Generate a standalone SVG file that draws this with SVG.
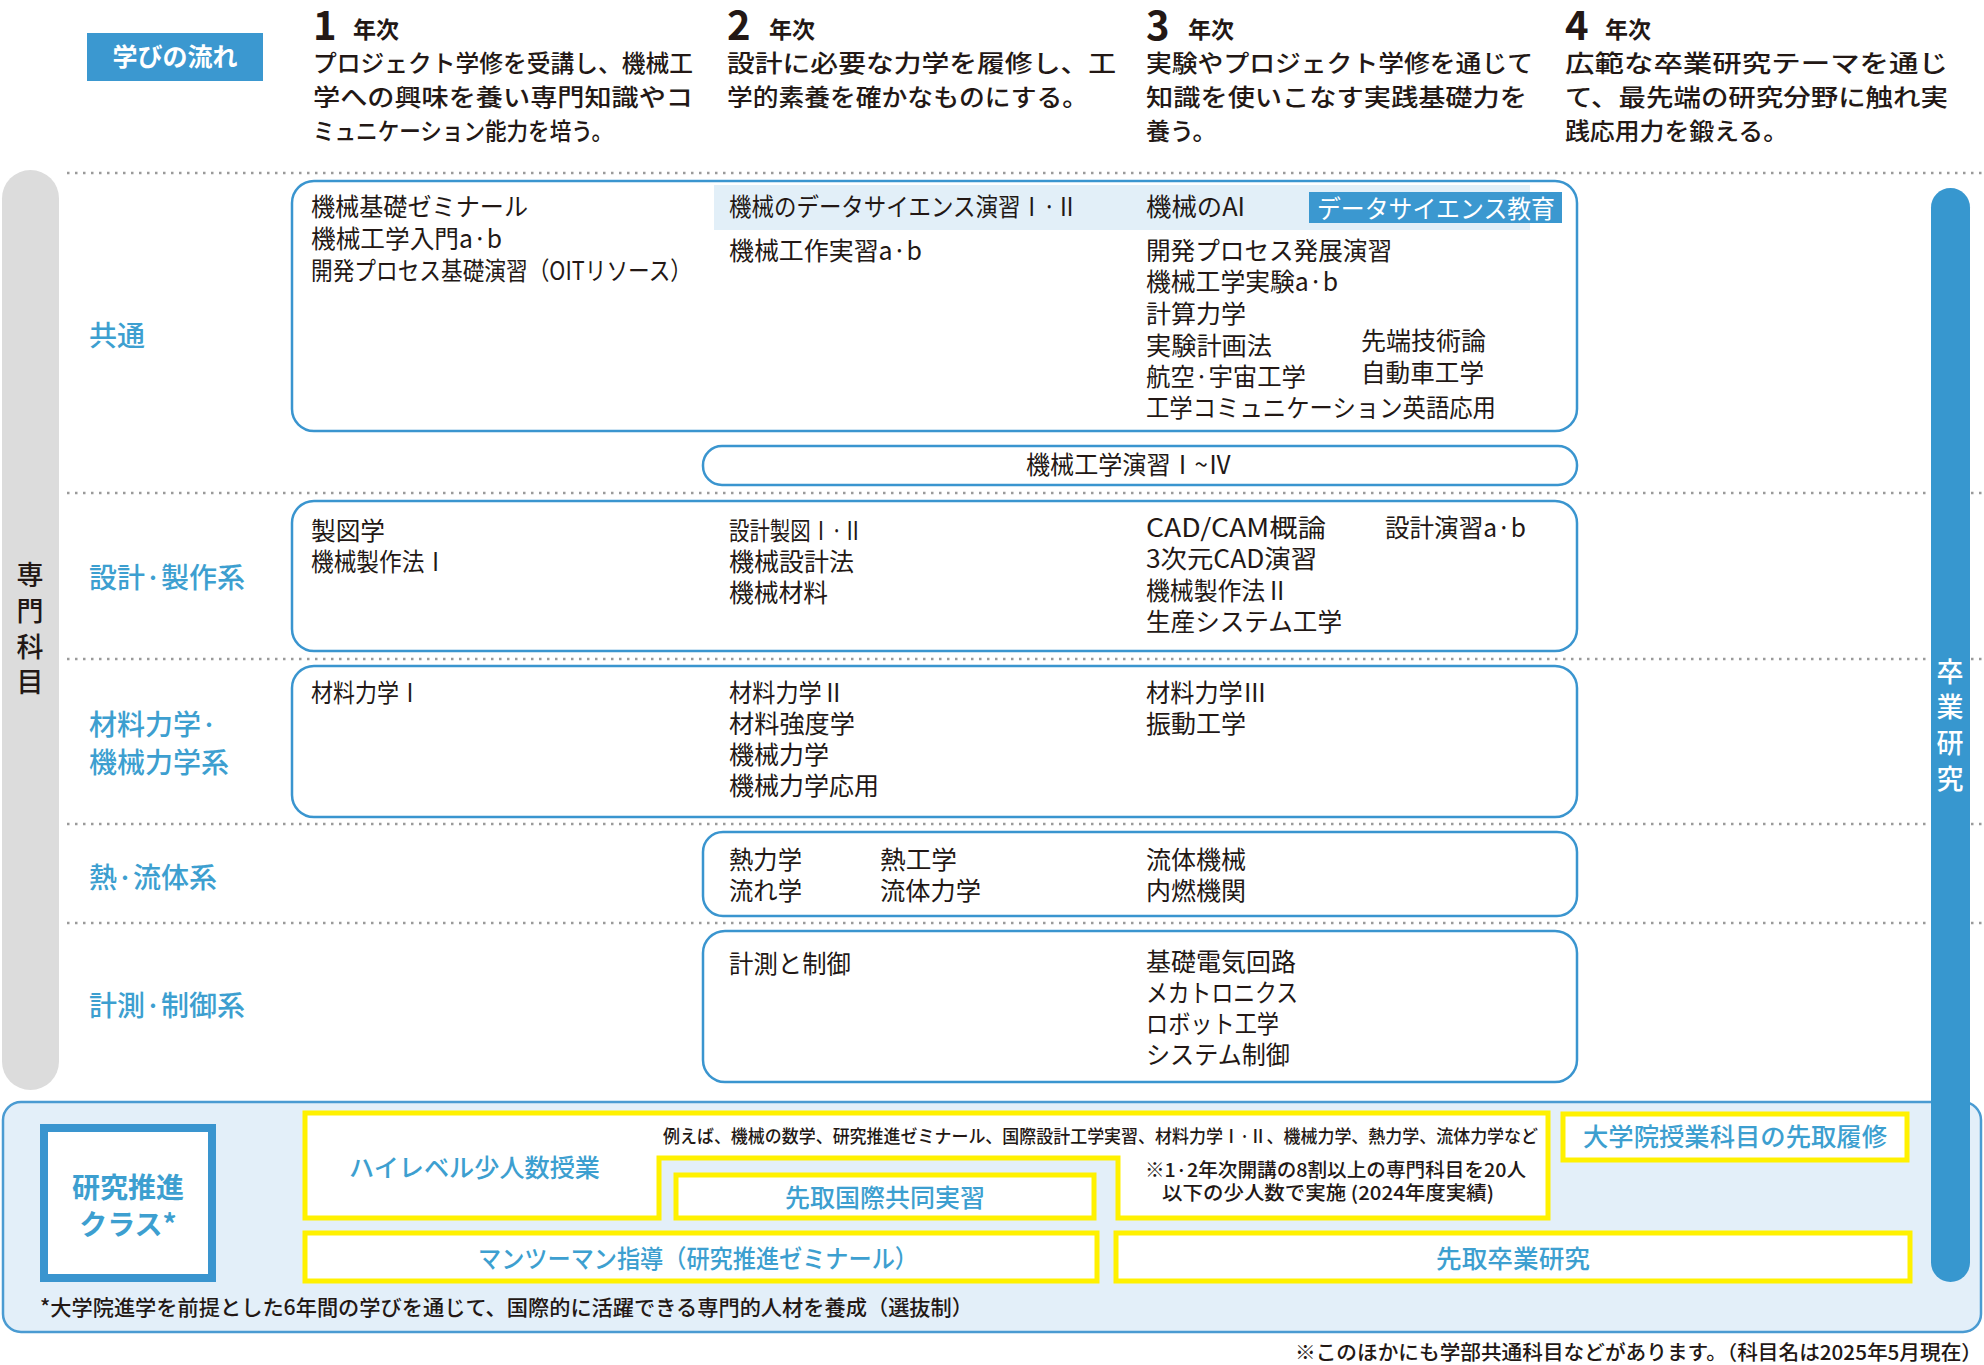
<svg xmlns="http://www.w3.org/2000/svg" width="1984" height="1365" viewBox="0 0 1984 1365">
<style>
text{font-family:"Noto Sans CJK JP","Noto Sans",sans-serif;fill:#231815}
.hd{font-size:24px;font-weight:500}
.yr{font-size:40px;font-weight:700}
.yk{font-size:23px;font-weight:700}
.b{font-size:25px}
.cat{font-size:28px;fill:#3d9fd0;font-weight:500}
.box{fill:#fff;stroke:#3a95cf;stroke-width:2.5}
.dot{stroke:#9a9a9a;stroke-width:2.5;stroke-dasharray:2.5 5.5;fill:none}
.yel{fill:#fff;stroke:#fff100;stroke-width:5}
.bl{fill:#3d9fd0;font-size:25px;font-weight:500}
.vt{font-size:27px;text-anchor:middle;font-weight:500}
</style>
<rect width="1984" height="1365" fill="#fff"/>

<!-- header -->
<g id="header">
  <rect x="87" y="33" width="176" height="48" fill="#3b98d0"/>
  <text x="175" y="66" text-anchor="middle" style="font-size:25px;font-weight:700;fill:#fff">学びの流れ</text>
  <g id="year1">
    <text class="yr" x="313" y="40">1</text><text class="yk" x="353" y="38">年次</text>
    <text class="hd" x="313" y="72" textLength="380" lengthAdjust="spacingAndGlyphs">プロジェクト学修を受講し、機械工</text>
    <text class="hd" x="313" y="106" textLength="380" lengthAdjust="spacingAndGlyphs">学への興味を養い専門知識やコ</text>
    <text class="hd" x="313" y="140" textLength="300" lengthAdjust="spacingAndGlyphs">ミュニケーション能力を培う。</text>
  </g>
  <g id="year2">
    <text class="yr" x="727" y="40">2</text><text class="yk" x="769" y="38">年次</text>
    <text class="hd" x="727" y="72" textLength="389" lengthAdjust="spacingAndGlyphs">設計に必要な力学を履修し、工</text>
    <text class="hd" x="727" y="106" textLength="361" lengthAdjust="spacingAndGlyphs">学的素養を確かなものにする。</text>
  </g>
  <g id="year3">
    <text class="yr" x="1146" y="40">3</text><text class="yk" x="1188" y="38">年次</text>
    <text class="hd" x="1146" y="72" textLength="387" lengthAdjust="spacingAndGlyphs">実験やプロジェクト学修を通じて</text>
    <text class="hd" x="1146" y="106" textLength="381" lengthAdjust="spacingAndGlyphs">知識を使いこなす実践基礎力を</text>
    <text class="hd" x="1146" y="140">養う。</text>
  </g>
  <g id="year4">
    <text class="yr" x="1565" y="40">4</text><text class="yk" x="1605" y="38">年次</text>
    <text class="hd" x="1565" y="72" textLength="383" lengthAdjust="spacingAndGlyphs">広範な卒業研究テーマを通じ</text>
    <text class="hd" x="1565" y="106" textLength="383" lengthAdjust="spacingAndGlyphs">て、最先端の研究分野に触れ実</text>
    <text class="hd" x="1565" y="140" textLength="223" lengthAdjust="spacingAndGlyphs">践応用力を鍛える。</text>
  </g>
</g>

<!-- left label -->
<g id="senmon">
  <rect x="2" y="170" width="57" height="920" rx="28.5" fill="#dcdcdc"/>
  <text class="vt" x="30" y="585">専</text>
  <text class="vt" x="30" y="621">門</text>
  <text class="vt" x="30" y="657">科</text>
  <text class="vt" x="30" y="692">目</text>
</g>

<!-- dividers -->
<g id="dividers">
  <line class="dot" x1="67" y1="173" x2="1984" y2="173"/>
  <line class="dot" x1="67" y1="493" x2="1984" y2="493"/>
  <line class="dot" x1="67" y1="659" x2="1984" y2="659"/>
  <line class="dot" x1="67" y1="824" x2="1984" y2="824"/>
  <line class="dot" x1="67" y1="923" x2="1984" y2="923"/>
</g>

<!-- 共通 -->
<g id="kyotsu">
  <text class="cat" x="89" y="346">共通</text>
  <rect class="box" x="292" y="181" width="1285" height="250" rx="22"/>
  <rect x="714" y="185" width="816" height="45" fill="#e2eff8"/>
  <rect x="1309" y="192" width="253" height="31" fill="#3b98d0"/>
  <text class="b" x="1317" y="218" textLength="238" lengthAdjust="spacingAndGlyphs" style="fill:#fff">データサイエンス教育</text>
  <text class="b" x="311" y="216" textLength="217" lengthAdjust="spacingAndGlyphs">機械基礎ゼミナール</text>
  <text class="b" x="311" y="248" textLength="191" lengthAdjust="spacingAndGlyphs">機械工学入門a·b</text>
  <text class="b" x="311" y="280" textLength="381" lengthAdjust="spacingAndGlyphs">開発プロセス基礎演習（OITリソース）</text>
  <text class="b" x="729" y="216" textLength="349" lengthAdjust="spacingAndGlyphs">機械のデータサイエンス演習Ⅰ·Ⅱ</text>
  <text class="b" x="729" y="260" textLength="193" lengthAdjust="spacingAndGlyphs">機械工作実習a·b</text>
  <text class="b" x="1146" y="216" textLength="99" lengthAdjust="spacingAndGlyphs">機械のAI</text>
  <text class="b" x="1146" y="260" textLength="246" lengthAdjust="spacingAndGlyphs">開発プロセス発展演習</text>
  <text class="b" x="1146" y="291" textLength="192" lengthAdjust="spacingAndGlyphs">機械工学実験a·b</text>
  <text class="b" x="1146" y="323" textLength="100" lengthAdjust="spacingAndGlyphs">計算力学</text>
  <text class="b" x="1146" y="355" textLength="126" lengthAdjust="spacingAndGlyphs">実験計画法</text>
  <text class="b" x="1361" y="350" textLength="125" lengthAdjust="spacingAndGlyphs">先端技術論</text>
  <text class="b" x="1146" y="386" textLength="160" lengthAdjust="spacingAndGlyphs">航空·宇宙工学</text>
  <text class="b" x="1361" y="382" textLength="123" lengthAdjust="spacingAndGlyphs">自動車工学</text>
  <text class="b" x="1146" y="417" textLength="350" lengthAdjust="spacingAndGlyphs">工学コミュニケーション英語応用</text>
</g>
<g id="enshu">
  <rect class="box" x="703" y="446" width="874" height="39" rx="19"/>
  <text class="b" x="1129" y="474" text-anchor="middle" textLength="206" lengthAdjust="spacingAndGlyphs">機械工学演習Ⅰ~Ⅳ</text>
</g>

<!-- 設計・製作系 -->
<g id="sekkei">
  <text class="cat" x="89" y="588">設計·製作系</text>
  <rect class="box" x="292" y="501" width="1285" height="150" rx="22"/>
  <text class="b" x="311" y="540" textLength="74" lengthAdjust="spacingAndGlyphs">製図学</text>
  <text class="b" x="311" y="571" textLength="136" lengthAdjust="spacingAndGlyphs">機械製作法Ⅰ</text>
  <text class="b" x="729" y="540" textLength="134" lengthAdjust="spacingAndGlyphs">設計製図Ⅰ·Ⅱ</text>
  <text class="b" x="729" y="571" textLength="125" lengthAdjust="spacingAndGlyphs">機械設計法</text>
  <text class="b" x="729" y="602" textLength="99" lengthAdjust="spacingAndGlyphs">機械材料</text>
  <text class="b" x="1146" y="537" textLength="180" lengthAdjust="spacingAndGlyphs">CAD/CAM概論</text>
  <text class="b" x="1385" y="537" textLength="141" lengthAdjust="spacingAndGlyphs">設計演習a·b</text>
  <text class="b" x="1146" y="568" textLength="171" lengthAdjust="spacingAndGlyphs">3次元CAD演習</text>
  <text class="b" x="1146" y="600" textLength="143" lengthAdjust="spacingAndGlyphs">機械製作法Ⅱ</text>
  <text class="b" x="1146" y="631" textLength="196" lengthAdjust="spacingAndGlyphs">生産システム工学</text>
</g>

<!-- 材料力学・機械力学系 -->
<g id="zairyo">
  <text class="cat" x="89" y="735">材料力学·</text>
  <text class="cat" x="89" y="773">機械力学系</text>
  <rect class="box" x="292" y="666" width="1285" height="151" rx="22"/>
  <text class="b" x="311" y="702" textLength="110" lengthAdjust="spacingAndGlyphs">材料力学Ⅰ</text>
  <text class="b" x="729" y="702" textLength="116" lengthAdjust="spacingAndGlyphs">材料力学Ⅱ</text>
  <text class="b" x="729" y="733" textLength="126" lengthAdjust="spacingAndGlyphs">材料強度学</text>
  <text class="b" x="729" y="764" textLength="100" lengthAdjust="spacingAndGlyphs">機械力学</text>
  <text class="b" x="729" y="795" textLength="150" lengthAdjust="spacingAndGlyphs">機械力学応用</text>
  <text class="b" x="1146" y="702" textLength="121" lengthAdjust="spacingAndGlyphs">材料力学Ⅲ</text>
  <text class="b" x="1146" y="733" textLength="100" lengthAdjust="spacingAndGlyphs">振動工学</text>
</g>

<!-- 熱・流体系 -->
<g id="netsu">
  <text class="cat" x="89" y="888">熱·流体系</text>
  <rect class="box" x="703" y="832" width="874" height="84" rx="20"/>
  <text class="b" x="729" y="869" textLength="73" lengthAdjust="spacingAndGlyphs">熱力学</text>
  <text class="b" x="729" y="900" textLength="73" lengthAdjust="spacingAndGlyphs">流れ学</text>
  <text class="b" x="880" y="869" textLength="77" lengthAdjust="spacingAndGlyphs">熱工学</text>
  <text class="b" x="880" y="900" textLength="101" lengthAdjust="spacingAndGlyphs">流体力学</text>
  <text class="b" x="1146" y="869" textLength="100" lengthAdjust="spacingAndGlyphs">流体機械</text>
  <text class="b" x="1146" y="900" textLength="100" lengthAdjust="spacingAndGlyphs">内燃機関</text>
</g>

<!-- 計測・制御系 -->
<g id="keisoku">
  <text class="cat" x="89" y="1016">計測·制御系</text>
  <rect class="box" x="703" y="931" width="874" height="151" rx="22"/>
  <text class="b" x="729" y="973" textLength="122" lengthAdjust="spacingAndGlyphs">計測と制御</text>
  <text class="b" x="1146" y="971" textLength="150" lengthAdjust="spacingAndGlyphs">基礎電気回路</text>
  <text class="b" x="1146" y="1002" textLength="152" lengthAdjust="spacingAndGlyphs">メカトロニクス</text>
  <text class="b" x="1146" y="1033" textLength="133" lengthAdjust="spacingAndGlyphs">ロボット工学</text>
  <text class="b" x="1146" y="1064" textLength="144" lengthAdjust="spacingAndGlyphs">システム制御</text>
</g>

<!-- 研究推進クラス panel -->
<g id="kenkyu-panel">
  <rect x="3" y="1102" width="1978" height="230" rx="18" fill="#e3eff9" stroke="#4a9bd2" stroke-width="2.5"/>
  <rect x="44" y="1128" width="168" height="150" fill="#fff" stroke="#3a95cf" stroke-width="8"/>
  <text x="128" y="1198" text-anchor="middle" style="font-size:28px;font-weight:700;fill:#3d9fd0">研究推進</text>
  <text x="128" y="1235" text-anchor="middle" style="font-size:28px;font-weight:700;fill:#3d9fd0">クラス*</text>
</g>
<g id="highlevel">
  <polygon class="yel" points="305,1113 1548,1113 1548,1218 1118,1218 1118,1158 659,1158 659,1218 305,1218"/>
  <text class="bl" x="349" y="1177" textLength="251" lengthAdjust="spacingAndGlyphs">ハイレベル少人数授業</text>
  <text x="663" y="1143" textLength="875" lengthAdjust="spacingAndGlyphs" style="font-size:18px;font-weight:500">例えば、機械の数学、研究推進ゼミナール、国際設計工学実習、材料力学Ⅰ·Ⅱ、機械力学、熱力学、流体力学など</text>
  <text x="1145" y="1177" textLength="381" lengthAdjust="spacingAndGlyphs" style="font-size:19px;font-weight:500">※1·2年次開講の8割以上の専門科目を20人</text>
  <text x="1162" y="1200" textLength="332" lengthAdjust="spacingAndGlyphs" style="font-size:19px;font-weight:500">以下の少人数で実施 (2024年度実績)</text>
</g>
<g id="kokusai">
  <rect class="yel" x="676" y="1175" width="418" height="43"/>
  <text class="bl" x="885" y="1207" text-anchor="middle">先取国際共同実習</text>
</g>
<g id="daigakuin">
  <rect class="yel" x="1563" y="1114" width="344" height="46"/>
  <text class="bl" x="1735" y="1146" text-anchor="middle" textLength="304" lengthAdjust="spacingAndGlyphs">大学院授業科目の先取履修</text>
</g>
<g id="mantoman">
  <rect class="yel" x="305" y="1233" width="792" height="48"/>
  <text class="bl" x="698" y="1268" text-anchor="middle" textLength="440" lengthAdjust="spacingAndGlyphs">マンツーマン指導（研究推進ゼミナール）</text>
</g>
<g id="sotsugyo-saki">
  <rect class="yel" x="1116" y="1233" width="794" height="48"/>
  <text class="bl" x="1513" y="1268" text-anchor="middle" textLength="154" lengthAdjust="spacingAndGlyphs">先取卒業研究</text>
</g>
<text x="40" y="1315" textLength="933" lengthAdjust="spacingAndGlyphs" style="font-size:21px;font-weight:500">*大学院進学を前提とした6年間の学びを通じて、国際的に活躍できる専門的人材を養成（選抜制）</text>

<!-- 卒業研究 bar -->
<g id="sotsuken">
  <rect x="1931" y="188" width="39" height="1094" rx="19.5" fill="#3797cf"/>
  <text class="vt" x="1950" y="682" style="fill:#fff">卒</text>
  <text class="vt" x="1950" y="717" style="fill:#fff">業</text>
  <text class="vt" x="1950" y="753" style="fill:#fff">研</text>
  <text class="vt" x="1950" y="789" style="fill:#fff">究</text>
</g>

<text x="1982" y="1360" text-anchor="end" textLength="687" lengthAdjust="spacingAndGlyphs" style="font-size:20px;font-weight:500">※このほかにも学部共通科目などがあります。（科目名は2025年5月現在）</text>
</svg>
